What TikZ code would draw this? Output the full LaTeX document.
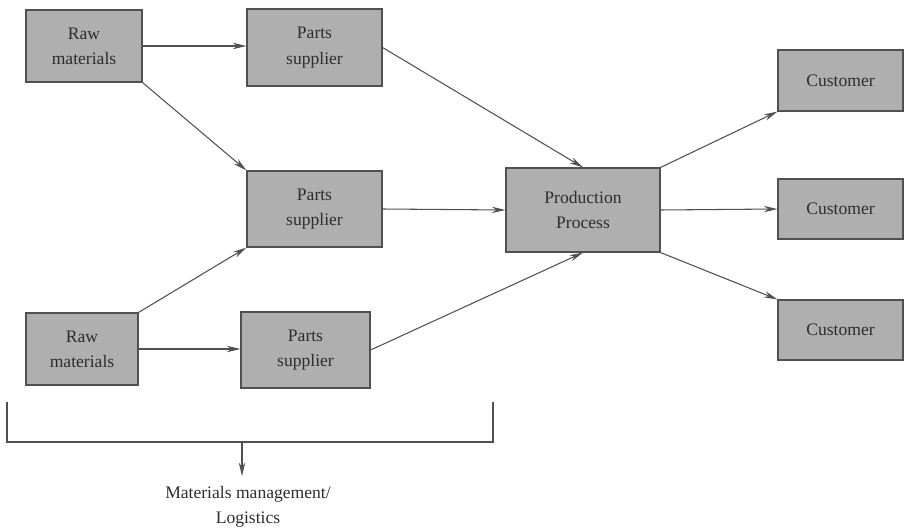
\documentclass[tikz,border=0pt]{standalone}
\usepackage{fontspec}
\setmainfont{Liberation Serif}
\newfontfamily\diagfont{Liberation Serif}
\usepackage{xcolor}
\usepackage{tikz}
\usetikzlibrary{arrows.meta}
\definecolor{boxgray}{RGB}{175,175,175}
\definecolor{edgegray}{RGB}{80,80,80}
\definecolor{inkgray}{RGB}{45,45,45}

\begin{document}
\begin{tikzpicture}[x=0.025cm, y=-0.025cm,
    box/.style={draw=edgegray, line width=0.8pt, fill=boxgray, align=center, text=inkgray, inner sep=0pt, font=\diagfont\fontsize{12.5}{18}\selectfont},
    flow/.style={draw=edgegray, line width=0.75pt, -{Stealth[length=3.4mm, width=1.6mm]}}]
          \useasboundingbox (0,0) rectangle (904,532);

          % Raw materials
          \node[box, minimum width=2.9cm, minimum height=1.8cm] (rawA) at (84,46) {Raw\\materials};
          \node[box, minimum width=2.8cm, minimum height=1.8cm] (rawB) at (82,349) {Raw\\materials};

          % Parts suppliers
          \node[box, minimum width=3.375cm, minimum height=1.925cm] (supA) at (314.5,47.5) {Parts\\supplier};
          \node[box, minimum width=3.375cm, minimum height=1.9cm] (supB) at (314.5,209) {Parts\\supplier};
          \node[box, minimum width=3.225cm, minimum height=1.9cm] (supC) at (305.5,350) {Parts\\supplier};

          % Production
          \node[box, minimum width=3.85cm, minimum height=2.1cm] (prod) at (583,210) {Production\\Process};

          % Customers
          \node[box, minimum width=3.125cm, minimum height=1.525cm] (cusA) at (840.5,80.5) {Customer};
          \node[box, minimum width=3.125cm, minimum height=1.5cm] (cusB) at (840.5,209) {Customer};
          \node[box, minimum width=3.125cm, minimum height=1.5cm] (cusC) at (840.5,330) {Customer};

          % Flows
          \draw[flow] (rawA.east) -- (rawA.east -| supA.west);
          \draw[flow] (rawA.south east) -- (supB.north west);
          \draw[flow] (rawB.north east) -- (supB.south west);
          \draw[flow] (rawB.east) -- (rawB.east -| supC.west);

          \draw[flow] (supA.east) -- (prod.north);
          \draw[flow] (supB.east) -- (prod.west);
          \draw[flow] (supC.east) -- (prod.south);

          \draw[flow] (prod.north east) -- (cusA.south west);
          \draw[flow] (prod.east) -- (cusB.west);
          \draw[flow] (prod.south east) -- (cusC.north west);

          % Bracket
          \coordinate (brkL) at (7,402);
          \coordinate (brkR) at (493,402);
          \coordinate (brk) at (242,442);
          \draw[edgegray, line width=0.75pt] (brkL) -- (brkL |- brk) -- (brkR |- brk) -- (brkR);
          \node[text=inkgray, align=center, inner sep=0pt, anchor=north, font=\diagfont\fontsize{12.5}{18}\selectfont] (mgmt) at (248,486) {Materials management/\\Logistics};
          \draw[flow, shorten >=7pt] (brk) -- (brk |- mgmt.north);
    \end{tikzpicture}
\end{document}
